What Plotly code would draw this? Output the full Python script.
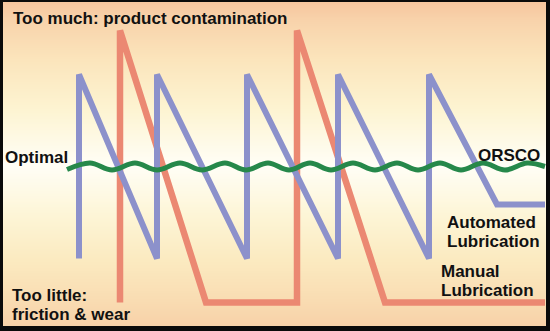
import plotly.graph_objects as go

# Lubricant level over time, relative to the optimal level (0)
auto_time = [79, 79, 157, 157, 247, 247, 338, 338, 429, 429, 497, 545]
auto_level = [-92, 92, -92, 92, -92, 92, -92, 92, -92, 92, -38, -38]

manual_time = [120, 120, 206, 297, 297, 385, 545]
manual_level = [-136, 136, -136, -136, 136, -136, -136]

orsco_time = [67, 90, 112, 135, 157, 180, 202, 225, 246, 268, 289, 310,
              331, 353, 375, 397, 418, 440, 461, 483, 505, 527, 545]
orsco_level = [-3, 3.5, -3.5, 3.5, -3.5, 3.5, -3.5, 3.5, -3.5, 3.5, -3.5, 3.5,
               -3.5, 3.5, -3.5, 3.5, -3.5, 3.5, -3.5, 3.5, -3.5, 3.5, 0]

# Background band colours from top to bottom
bg_levels = [166.5, 146.5, 106.5, 56.5, 1.5, -48.5, -93.5, -133.5, -164.5]
bg_colors = ["#f5c49d", "#f8d3ab", "#fbe5bc", "#fdf4d2", "#fffef6",
             "#fdf5d6", "#fbeac0", "#f9dcb2", "#f7cfa6"]

W, H = 550, 331
Y_TOP, Y_BOT = 166.5, -164.5

fig = go.Figure()

n = len(bg_levels)
fig.add_trace(go.Heatmap(
    x=[-20, W + 20],
    y=bg_levels,
    z=[[i, i] for i in range(n)],
    colorscale=[[i / (n - 1), c] for i, c in enumerate(bg_colors)],
    zsmooth="best", showscale=False, hoverinfo="skip",
))

fig.add_trace(go.Scatter(x=manual_time, y=manual_level, mode="lines",
                         line=dict(color="#eb8872", width=6.5),
                         hoverinfo="skip"))
fig.add_trace(go.Scatter(x=auto_time, y=auto_level, mode="lines",
                         line=dict(color="#8c91cb", width=6),
                         hoverinfo="skip"))
fig.add_trace(go.Scatter(x=orsco_time, y=orsco_level, mode="lines",
                         line=dict(color="#26884a", width=5, shape="spline"),
                         hoverinfo="skip"))

font = dict(family="Liberation Sans, Arial, sans-serif", size=17,
            color="#111111", weight="bold")

labels = [
    ("Too much: product contamination", 12, 148.5, "left"),
    ("Optimal", 4, 9.5, "left"),
    ("ORSCO", 541, 11.5, "right"),
    ("Automated", 446, -55.5, "left"),
    ("Lubrication", 446, -74.5, "left"),
    ("Manual", 440, -105, "left"),
    ("Lubrication", 440, -124, "left"),
    ("Too little:", 11, -129, "left"),
    ("friction & wear", 11, -148, "left"),
]
for text, x, y, anchor in labels:
    fig.add_annotation(text=text, x=x, y=y, xref="x", yref="y",
                       xanchor=anchor, yanchor="middle", showarrow=False,
                       font=font, borderpad=0)

# Black frame
for x0, x1, y0, y1 in [(0, 3, 0, H), (546, W, 0, H), (0, W, 0, 2), (0, W, 326, H)]:
    fig.add_shape(type="rect", xref="paper", yref="paper",
                  x0=x0 / W, x1=x1 / W, y0=1 - y1 / H, y1=1 - y0 / H,
                  fillcolor="#0a0a0a", line_width=0, layer="above")

fig.update_layout(
    width=W, height=H,
    margin=dict(l=0, r=0, t=0, b=0),
    paper_bgcolor="#fffef6", plot_bgcolor="#fffef6",
    showlegend=False,
    xaxis=dict(range=[0, W], visible=False, fixedrange=True),
    yaxis=dict(range=[Y_BOT, Y_TOP], visible=False, fixedrange=True),
)

fig.write_html("out.html", config={"displayModeBar": False})
